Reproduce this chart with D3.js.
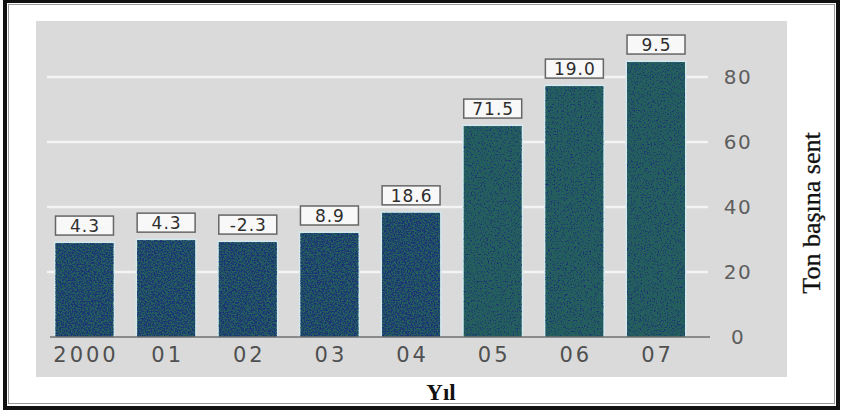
<!DOCTYPE html>
<html>
<head>
<meta charset="utf-8">
<script src="https://cdn.jsdelivr.net/npm/d3@7"></script>
<style>
  html, body { margin: 0; padding: 0; background: #ffffff; }
  svg { display: block; }
</style>
</head>
<body>
<svg id="chart" width="842" height="412"></svg>
<script>
// Price per ton (cents) by year, with the yearly % change printed above each bar
const years = ["2000", "01", "02", "03", "04", "05", "06", "07"];
const centsPerTon = [28.9, 29.8, 29.2, 32.0, 38.2, 64.9, 77.2, 84.6];
const changeLabels = ["4.3", "4.3", "-2.3", "8.9", "18.6", "71.5", "19.0", "9.5"];
const yTicks = [0, 20, 40, 60, 80];
const xTitle = "Yıl";
const yTitle = "Ton başına sent";

const svg = d3.select("#chart");

const x = d3.scaleBand().domain(years).range([55.5, 685]).paddingInner(0.29).paddingOuter(0);
const y = d3.scaleLinear().domain([0, 80]).range([337, 77]);

// speckled print texture for the bars
const defs = svg.append("defs");
function speckle(id, offset) {
  const f = defs.append("filter").attr("id", id)
    .attr("color-interpolation-filters", "sRGB")
    .attr("x", 0).attr("y", 0).attr("width", "100%").attr("height", "100%");
  f.append("feTurbulence").attr("type", "fractalNoise").attr("baseFrequency", 0.7)
    .attr("numOctaves", 2).attr("seed", 7).attr("result", "noise");
  f.append("feColorMatrix").attr("in", "noise").attr("type", "matrix")
    .attr("values", `0 0 0 0 0.11  0 0 0 0 0.20  0 0 0 0 0.46  7 0 0 0 ${offset}`)
    .attr("result", "navy");
  f.append("feComposite").attr("in", "navy").attr("in2", "SourceGraphic")
    .attr("operator", "in").attr("result", "dots");
  const m = f.append("feMerge");
  m.append("feMergeNode").attr("in", "SourceGraphic");
  m.append("feMergeNode").attr("in", "dots");
}
speckle("speckleDense", -3.1);
speckle("speckleLight", -3.9);

// frame
svg.append("rect").attr("x", 5).attr("y", 1).attr("width", 833).attr("height", 407)
  .attr("fill", "#ffffff").attr("stroke", "#111").attr("stroke-width", 4);
svg.append("rect").attr("x", 8.5).attr("y", 4.5).attr("width", 826).attr("height", 399)
  .attr("fill", "none").attr("stroke", "#9a9a9a").attr("stroke-width", 1);

// grey plate
svg.append("rect").attr("x", 36).attr("y", 21).attr("width", 751).attr("height", 356)
  .attr("fill", "#dadada");

// gridlines and right-hand tick labels
const yAxis = d3.axisRight(y).tickValues(yTicks).tickSize(0).tickPadding(0);
const gy = svg.append("g").attr("transform", "translate(738,0)").call(yAxis);
gy.select(".domain").remove();
gy.selectAll("text")
  .attr("text-anchor", "middle")
  .attr("x", 0)
  .attr("fill", "#5e5e5e")
  .style("font-family", "'DejaVu Sans', sans-serif")
  .style("font-size", "20px")
  .style("letter-spacing", "1.5px");

svg.append("g").selectAll("line").data(yTicks.filter(d => d > 0)).join("line")
  .attr("x1", 47).attr("x2", 708)
  .attr("y1", d => y(d)).attr("y2", d => y(d))
  .attr("stroke", "#f4f4f4").attr("stroke-width", 2.5);

// bars: pale halo, teal body, navy speckle
const bars = svg.append("g");
bars.selectAll("rect.halo").data(years).join("rect").attr("class", "halo")
  .attr("x", d => x(d) - 1.5)
  .attr("y", (d, i) => y(centsPerTon[i]) - 1.5)
  .attr("width", x.bandwidth() + 3)
  .attr("height", (d, i) => y(0) - y(centsPerTon[i]) + 1.5)
  .attr("fill", "#d3e9ef");
bars.selectAll("rect.bar").data(years).join("rect").attr("class", "bar")
  .attr("x", d => x(d))
  .attr("y", (d, i) => y(centsPerTon[i]))
  .attr("width", x.bandwidth())
  .attr("height", (d, i) => y(0) - y(centsPerTon[i]))
  .attr("fill", "#245e5d")
  .attr("filter", (d, i) => i < 5 ? "url(#speckleDense)" : "url(#speckleLight)");

// baseline
svg.append("line").attr("x1", 50).attr("x2", 710).attr("y1", y(0)).attr("y2", y(0))
  .attr("stroke", "#6f6f6f").attr("stroke-width", 1.5);

// x axis labels
const xAxis = d3.axisBottom(x).tickSize(0).tickPadding(0);
const gx = svg.append("g").attr("transform", "translate(0,355)").call(xAxis);
gx.select(".domain").remove();
gx.selectAll("text")
  .attr("dy", "0.35em")
  .attr("dx", "1.5px")
  .attr("fill", "#505050")
  .style("font-family", "'DejaVu Sans', sans-serif")
  .style("font-size", "21px")
  .style("letter-spacing", "3px");

// % change boxes above each bar
const boxes = svg.append("g").selectAll("g").data(years).join("g")
  .attr("transform", (d, i) => `translate(${x(d)},${y(centsPerTon[i]) - 27})`);
boxes.append("rect")
  .attr("width", x.bandwidth()).attr("height", 19)
  .attr("fill", "#f8f8f8").attr("stroke", "#666").attr("stroke-width", 1.5);
boxes.append("text")
  .attr("x", x.bandwidth() / 2 + 0.5).attr("y", 16)
  .attr("text-anchor", "middle")
  .attr("fill", "#2e2e2e")
  .style("font-family", "'DejaVu Sans', sans-serif")
  .style("font-size", "17px")
  .style("letter-spacing", "1px")
  .text((d, i) => changeLabels[i]);

// axis titles
svg.append("text").attr("x", 441).attr("y", 400)
  .attr("text-anchor", "middle")
  .style("font-family", "'Liberation Serif', serif")
  .style("font-weight", "bold").style("font-size", "23px")
  .attr("fill", "#111")
  .text(xTitle);

svg.append("text")
  .attr("transform", "translate(820,213) rotate(-90)")
  .attr("text-anchor", "middle")
  .style("font-family", "'Liberation Serif', serif")
  .style("font-size", "26px")
  .attr("fill", "#111")
  .attr("stroke", "#111").attr("stroke-width", 0.3)
  .text(yTitle);
</script>
</body>
</html>
